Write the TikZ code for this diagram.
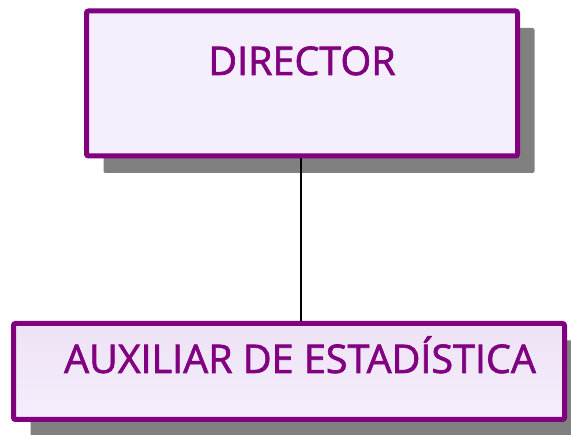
\documentclass[tikz,border=0pt]{standalone}
\usepackage{fontspec}
\setmainfont{Open Sans}[FakeBold=1.6]
\usetikzlibrary{shadows}
\definecolor{boxpurple}{HTML}{800080}
\definecolor{boxfill}{HTML}{F5EEFC}
\definecolor{boxfilltop}{HTML}{EDE2F5}
\definecolor{shadowgray}{HTML}{808080}
\begin{document}
\begin{tikzpicture}[x=1pt,y=-1pt,
  orgbox/.style={draw=boxpurple, line width=5pt, rounded corners=2pt, inner sep=0pt,
    drop shadow={shadow xshift=17pt, shadow yshift=-17pt, fill=shadowgray, opacity=1}},
  orgtext/.style={text=boxpurple, font=\fontsize{39.5}{42}\selectfont, inner sep=0pt, anchor=base}]
\useasboundingbox[fill=white] (0,0) rectangle (571,435);
\node[orgbox, fill=boxfill, minimum width=431pt, minimum height=145pt] (top) at (302,83.5) {};
\node[orgbox, top color=boxfilltop, bottom color=boxfill, minimum width=551pt, minimum height=96pt] (bot) at (289,371.5) {};
\node[orgtext] (toptext) at (302,75) {DIRECTOR};
\node[orgtext] (bottext) at (300,373) {AUXILIAR DE ESTADÍSTICA};
\draw[line width=1.5pt] ([xshift=-1pt]top.south) -- ([xshift=-1pt]top.south |- bot.north);
\end{tikzpicture}
\end{document}
